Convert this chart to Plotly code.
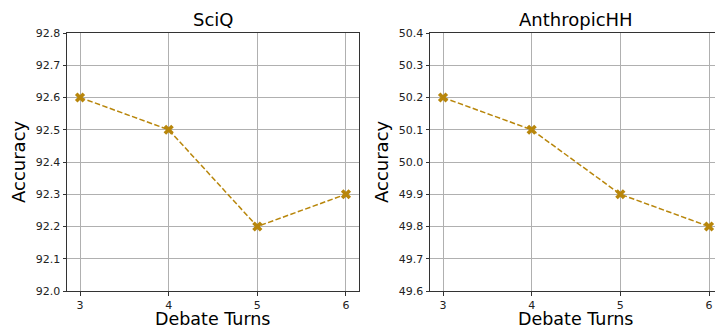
import plotly.graph_objects as go

turns = [3, 4, 5, 6]
sciq_acc = [92.6, 92.5, 92.2, 92.3]
hh_acc = [50.2, 50.1, 49.9, 49.8]
titles = ["SciQ", "AnthropicHH"]
sciq_ticks = [92.0, 92.1, 92.2, 92.3, 92.4, 92.5, 92.6, 92.7, 92.8]
hh_ticks = [49.6, 49.7, 49.8, 49.9, 50.0, 50.1, 50.2, 50.3, 50.4]

W, H = 715, 330
COLOR = "#B8860B"
FONT = "DejaVu Sans"


def fx(p):  # page x pixel -> paper fraction
    return p / W


def fy(p):  # page y pixel -> paper fraction
    return 1 - p / H


fig = go.Figure()
fig.add_trace(go.Scatter(x=turns, y=sciq_acc, mode="lines+markers",
                         line=dict(color=COLOR, width=1.5, dash="5.5px,2.4px"),
                         marker=dict(symbol="x", size=9, color=COLOR),
                         xaxis="x", yaxis="y", showlegend=False, cliponaxis=False))
fig.add_trace(go.Scatter(x=turns, y=hh_acc, mode="lines+markers",
                         line=dict(color=COLOR, width=1.5, dash="5.5px,2.4px"),
                         marker=dict(symbol="x", size=9, color=COLOR),
                         xaxis="x2", yaxis="y2", showlegend=False, cliponaxis=False))

ydom = [fy(291), fy(33)]
px = 88.7
axcommon = dict(showgrid=True, gridcolor="#b0b0b0", gridwidth=0.8,
                ticks="outside", ticklen=3.5, tickwidth=1, tickcolor="#333",
                showline=True, linecolor="#333", linewidth=1,
                tickfont=dict(family=FONT, size=11, color="#222"),
                zeroline=False, automargin=False)

fig.update_layout(
    width=W, height=H, margin=dict(l=0, r=0, t=0, b=0, autoexpand=False),
    paper_bgcolor="white", plot_bgcolor="white",
    xaxis=dict(domain=[fx(67), fx(359)], range=[2.853, 6.147], tickvals=turns,
               anchor="y", mirror=True, **axcommon),
    yaxis=dict(domain=ydom, range=[92.0, 92.8], tickvals=sciq_ticks,
               tickformat=".1f", anchor="x", mirror=True, **axcommon),
    xaxis2=dict(domain=[fx(430), 1.0], range=[3 - 13 / px, 6 + 6 / px], tickvals=turns,
                anchor="y2", mirror=True, **axcommon),
    yaxis2=dict(domain=ydom, range=[49.6, 50.4], tickvals=hh_ticks,
                tickformat=".1f", anchor="x2", mirror=False, **axcommon),
)

centers = [(67 + 359) / 2, (430 + 722.7) / 2]
left_edges = [18, 381]
for i, t in enumerate(titles):
    fig.add_annotation(x=fx(centers[i]), y=fy(20), xref="paper", yref="paper",
                       text=t, showarrow=False, font=dict(family=FONT, size=18, color="black"),
                       xanchor="center", yanchor="middle")
    fig.add_annotation(x=fx(centers[i]), y=0, xref="paper", yref="paper",
                       text="Debate Turns", showarrow=False,
                       font=dict(family=FONT, size=17.5, color="black"),
                       xanchor="center", yanchor="bottom", borderpad=0)
    fig.add_annotation(x=fx(left_edges[i]), y=fy(162), xref="paper", yref="paper",
                       text="Accuracy", showarrow=False, textangle=-90,
                       font=dict(family=FONT, size=18, color="black"),
                       xanchor="center", yanchor="middle")

fig.write_html("out.html", config={"displayModeBar": False},
               post_script="document.body.style.margin='0px';document.body.style.overflow='hidden';")
